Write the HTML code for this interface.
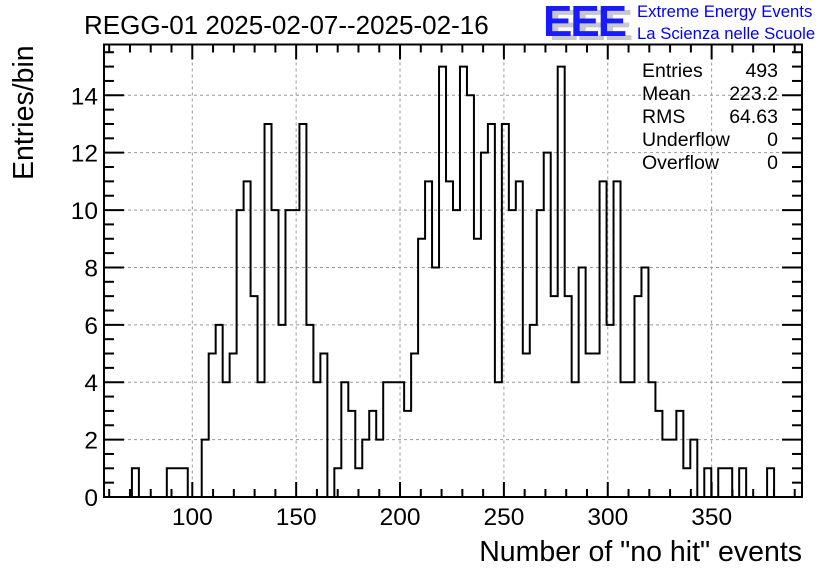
<!DOCTYPE html>
<html><head><meta charset="utf-8"><style>
html,body{margin:0;padding:0;background:#fff;}
svg{display:block;font-family:"Liberation Sans",Arial,sans-serif;}
</style></head><body>
<svg id="chart" width="836" height="572" viewBox="0 0 836 572">
<rect x="0" y="0" width="836" height="572" fill="#fff"/>
<text x="84" y="34" font-size="26" fill="#000">REGG-01 2025-02-07--2025-02-16</text>
<g>
<text x="549" y="40" font-size="44" font-weight="bold" fill="#c8c8c8" letter-spacing="-2">EEE</text>
<text x="543" y="36" font-size="44" font-weight="bold" fill="#1a1aff" letter-spacing="-2">EEE</text>
<text x="637" y="17" font-size="16.7" fill="#0000ff">Extreme Energy Events</text>
<text x="637" y="39" font-size="16.7" fill="#0000ff">La Scienza nelle Scuole</text>
</g>
<g id="grid"></g>
<g id="hist"></g>
<g id="axes"></g>
<g font-size="19.5" fill="#000">
<text x="642" y="77">Entries</text><text x="778" y="77" text-anchor="end">493</text>
<text x="642" y="100">Mean</text><text x="778" y="100" text-anchor="end">223.2</text>
<text x="642" y="123">RMS</text><text x="778" y="123" text-anchor="end">64.63</text>
<text x="642" y="146">Underflow</text><text x="778" y="146" text-anchor="end">0</text>
<text x="642" y="169">Overflow</text><text x="778" y="169" text-anchor="end">0</text>
</g>
<text x="802" y="561" font-size="28.5" text-anchor="end">Number of "no hit" events</text>
<text transform="translate(33,180) rotate(-90)" font-size="28.5" text-anchor="start">Entries/bin</text>
</svg>
<script>
const binCounts = [0,0,0,0,1,0,0,0,0,1,1,1,0,0,2,5,6,4,5,10,11,7,4,13,10,6,10,10,13,6,4,5,0,1,4,3,1,2,3,2,4,4,4,3,5,9,11,8,15,11,10,15,14,9,12,13,4,13,10,11,5,6,10,12,7,15,7,4,8,5,5,11,6,11,4,4,7,8,4,3,2,2,3,1,2,0,1,0,1,1,0,1,0,0,0,1,0,0,0,0];
const xRange = [57.5, 393.5];
const yRange = [0, 15.77];
const xTickLabels = [100,150,200,250,300,350];
const yTickLabels = [0,2,4,6,8,10,12,14];

const L=104,R=802,T=44.5,B=497;
function xs(v){return L+(v-xRange[0])/(xRange[1]-xRange[0])*(R-L);}
function ys(v){return B-(v-yRange[0])/(yRange[1]-yRange[0])*(B-T);}
const NS="http://www.w3.org/2000/svg";
function mk(tag,attrs,parent){const e=document.createElementNS(NS,tag);for(const k in attrs)e.setAttribute(k,attrs[k]);parent.appendChild(e);return e;}
const grid=document.getElementById('grid'),hist=document.getElementById('hist'),axes=document.getElementById('axes');

xTickLabels.forEach(v=>{const gl=mk('line',{x1:xs(v),x2:xs(v),y1:T,y2:B,stroke:'#999','stroke-width':1,'stroke-dasharray':'3,3'},grid);

});
yTickLabels.forEach(v=>{if(v===0)return;const gl=mk('line',{x1:L,x2:R,y1:ys(v),y2:ys(v),stroke:'#999','stroke-width':1,'stroke-dasharray':'3,3'},grid);

});

const n=binCounts.length,bw=(xRange[1]-xRange[0])/n;
let d='M'+xs(xRange[0])+','+ys(0);
binCounts.forEach((c,i)=>{const x0=xs(xRange[0]+i*bw),x1=xs(xRange[0]+(i+1)*bw);d+=' L'+x0+','+ys(c)+' L'+x1+','+ys(c);});
d+=' L'+xs(xRange[1])+','+ys(0);
const hp=mk('path',{d:d,fill:'none',stroke:'#000','stroke-width':2,'stroke-linejoin':'miter'},hist);



const fr=mk('rect',{x:L,y:T,width:R-L,height:B-T,fill:'none',stroke:'#000','stroke-width':2},axes);


for(let v=60;v<=390;v+=10){const major=(v%50===0);const len=major?15:8;
 mk('line',{x1:xs(v),x2:xs(v),y1:B,y2:B-len,stroke:'#000','stroke-width':2},axes);
 mk('line',{x1:xs(v),x2:xs(v),y1:T,y2:T+len,stroke:'#000','stroke-width':2},axes);}
xTickLabels.forEach(v=>{const t=mk('text',{x:xs(v),y:B+28,'font-size':24.5,'text-anchor':'middle'},axes);t.textContent=v;

});
for(let v=0;v<=15.5;v+=0.5){const major=(v%2===0);const len=major?20:10;
 mk('line',{x1:L,x2:L+len,y1:ys(v),y2:ys(v),stroke:'#000','stroke-width':2},axes);
 mk('line',{x1:R,x2:R-len,y1:ys(v),y2:ys(v),stroke:'#000','stroke-width':2},axes);}
yTickLabels.forEach(v=>{const t=mk('text',{x:L-6,y:ys(v)+9,'font-size':24.5,'text-anchor':'end'},axes);t.textContent=v;

});
</script>
</body></html>
